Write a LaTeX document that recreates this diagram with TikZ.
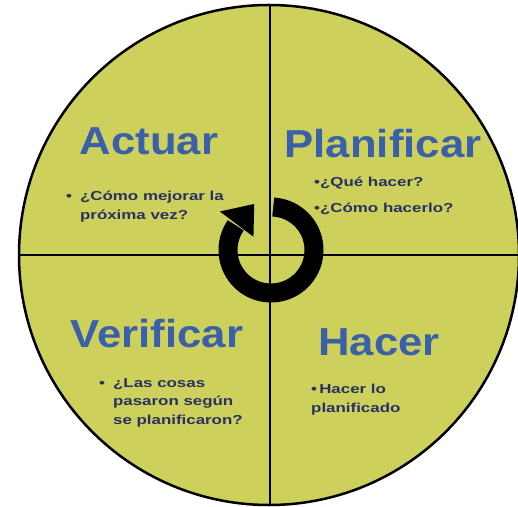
\documentclass[tikz,border=0pt]{standalone}
\usepackage{fontspec}
\setmainfont{Liberation Sans}
\newfontfamily\titlefont[FakeStretch=1.12]{Liberation Sans}
\newfontfamily\notefont[FakeStretch=1.3]{Liberation Sans}
\usepackage{tikz}
\usetikzlibrary{arrows.meta}
\definecolor{padyellow}{RGB}{205,209,92}
\definecolor{padblue}{RGB}{58,96,170}
\definecolor{padnavy}{RGB}{40,48,100}
\tikzset{phase/.style={anchor=base, inner sep=0pt, text=padblue, font=\titlefont\fontsize{39}{40}\selectfont\bfseries},
  note/.style={anchor=base west, inner sep=0pt, text=padnavy, align=left, font=\notefont\fontsize{13}{18.5}\selectfont\bfseries}}
\newcommand{\hangnote}[2]{\begin{tabular}[t]{@{}l@{\hspace{8pt}}l@{}}\textbullet & #1\\ & #2\end{tabular}}

\begin{document}
\begin{tikzpicture}[x=1pt, y=1pt]
\useasboundingbox (0,0) rectangle (518,506);
\fill[white] (0,0) rectangle (518,506);
% the wheel and its four quarters
\coordinate (c) at (269,251);
\fill[padyellow] (c) circle (250);
\begin{scope}
\clip (c) circle (250);
\draw[line width=2.5pt] (270,0) -- (270,506);
\draw[line width=2.5pt] (0,251) -- (518,251);
\end{scope}
\draw[line width=2.5pt] (c) circle (250);
% turning arrow in the middle
\coordinate (m) at (271,256);
\draw[line width=19pt] ([shift={(87:43)}]m) arc (87:-215:43);
\fill ([shift={(143:64)}]m) -- ([shift={(110:49)}]m) -- ([shift={(143:22)}]m) -- cycle;
% titles
\node[phase] (actuar) at (149,351) {Actuar};
\node[phase] (planificar) at (383,348) {Planificar};
\node[phase] (verificar) at (157,159) {Verificar};
\node[phase] (hacer) at (379,151) {Hacer};
% questions (base of an aligned node is its last line)
\node[note] (actuarq) at (66,305) {\hangnote{¿Cómo mejorar la}{próxima vez?}};
\node[note] (planificarq) at (314,293) {\textbullet¿Qué hacer?\\[7.5pt]\textbullet¿Cómo hacerlo?};
\node[note] (verificarq) at (99,119) {\begin{tabular}[t]{@{}l@{\hspace{8pt}}l@{}}\textbullet & ¿Las cosas\\ & pasaron según\\ & se planificaron?\end{tabular}};
\node[note] (hacerq) at (311,94) {\textbullet\,Hacer lo\\planificado};
\end{tikzpicture}
\end{document}
